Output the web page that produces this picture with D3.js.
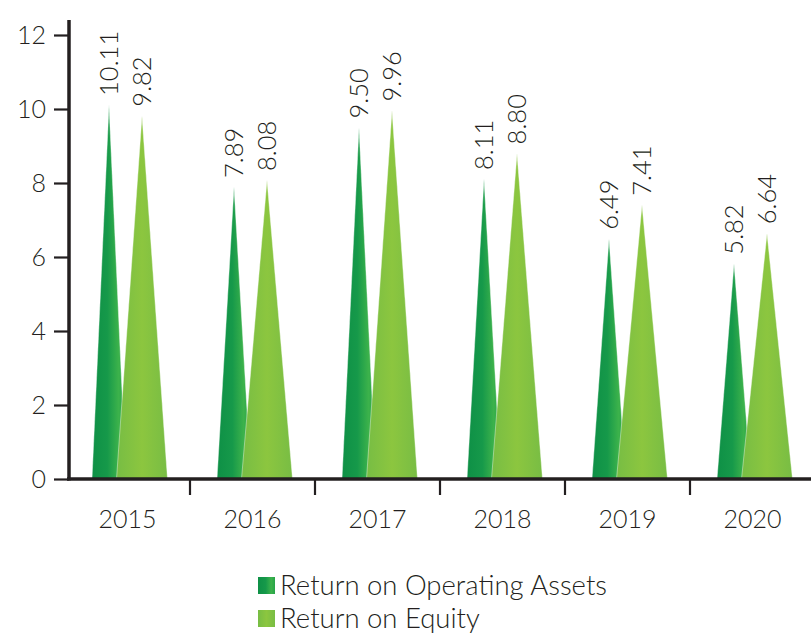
<!DOCTYPE html>
<html>
<head>
<meta charset="utf-8">
<script src="https://cdn.jsdelivr.net/npm/d3@7"></script>
<style>
  body { margin: 0; background: #fff; }
  text { font-family: Lato, 'Open Sans', sans-serif; font-weight: 300; fill: #231f20; }
</style>
</head>
<body>
<div id="chart"></div>
<script>
// data
let years = ['2015', '2016', '2017', '2018', '2019', '2020']
let seriesNames = ['Return on Operating Assets', 'Return on Equity']
let operatingAssets = [10.11, 7.89, 9.50, 8.11, 6.49, 5.82]
let equity = [9.82, 8.08, 9.96, 8.80, 7.41, 6.64]
let yTicks = [0, 2, 4, 6, 8, 10, 12]

let width = 811
let height = 636

let svg = d3.select('#chart')
  .append('svg')
  .attr('width', width)
  .attr('height', height)

let defs = svg.append('defs')

// gradients for the two series
let darkGrad = defs.append('linearGradient').attr('id', 'grad-dark')
darkGrad.append('stop').attr('offset', '0%').attr('stop-color', '#0e9046')
darkGrad.append('stop').attr('offset', '45%').attr('stop-color', '#16994a')
darkGrad.append('stop').attr('offset', '78%').attr('stop-color', '#3cb24b')
darkGrad.append('stop').attr('offset', '100%').attr('stop-color', '#27a349')

let lightGrad = defs.append('linearGradient').attr('id', 'grad-light')
lightGrad.append('stop').attr('offset', '0%').attr('stop-color', '#77bd44')
lightGrad.append('stop').attr('offset', '50%').attr('stop-color', '#8cc63f')
lightGrad.append('stop').attr('offset', '100%').attr('stop-color', '#78bd44')

let fills = ['url(#grad-dark)', 'url(#grad-light)']
let halfWidths = [17, 25.5]

var xScale = d3.scaleBand().domain(years).range([65, 815])
var xSeries = d3.scaleBand().domain(seriesNames).range([-35, 31])
var yScale = d3.scaleLinear().domain([0, 12]).range([479, 35])

// table of points built from the arrays
let rows = []
seriesNames.forEach((name, i) => {
  let values = i === 0 ? operatingAssets : equity
  years.forEach((year, j) => {
    rows.push({ series: name, index: i, year: year, value: values[j] })
  })
})

function centerX(d) {
  return xScale(d.year) + xScale.bandwidth() / 2 + xSeries(d.series) + xSeries.bandwidth() / 2
}

let line = d3.line()

// y axis
let yAxis = d3.axisLeft(yScale)
  .tickValues(yTicks)
  .tickSize(15)
  .tickPadding(8)

let yG = svg.append('g')
  .attr('transform', 'translate(69,0)')
  .call(yAxis)
yG.select('.domain').remove()
yG.selectAll('.tick line').attr('stroke', '#231f20').attr('stroke-width', 2.2)
yG.selectAll('.tick text')
  .attr('font-size', 25)
  .attr('font-family', 'Lato, sans-serif')
  .attr('fill', '#231f20')

svg.append('line')
  .attr('x1', 69).attr('x2', 69)
  .attr('y1', 20).attr('y2', yScale(0) + 1.5)
  .attr('stroke', '#231f20')
  .attr('stroke-width', 3.5)

// triangles, dark first so the light ones sit on top
svg.append('g')
  .selectAll('path')
  .data(rows)
  .join('path')
  .attr('d', d => {
    let cx = centerX(d)
    let hw = halfWidths[d.index]
    return line([[cx - hw, yScale(0)], [cx, yScale(d.value)], [cx + hw, yScale(0)]]) + 'Z'
  })
  .attr('fill', d => fills[d.index])
  .attr('stroke', '#ffffff')
  .attr('stroke-opacity', 0.5)
  .attr('stroke-width', 0.8)
  .attr('stroke-linejoin', 'miter')

// value labels
svg.append('g')
  .selectAll('text')
  .data(rows)
  .join('text')
  .attr('transform', d => 'translate(' + centerX(d) + ',' + (yScale(d.value) - 9) + ') rotate(-90)')
  .attr('dy', '0.35em')
  .attr('font-size', 25.5)
  .text(d => d.value.toFixed(2))

// x axis
svg.append('line')
  .attr('x1', 67).attr('x2', width)
  .attr('y1', yScale(0)).attr('y2', yScale(0))
  .attr('stroke', '#231f20')
  .attr('stroke-width', 3.5)

svg.append('g')
  .selectAll('line')
  .data(years.slice(1))
  .join('line')
  .attr('x1', d => xScale(d)).attr('x2', d => xScale(d))
  .attr('y1', yScale(0)).attr('y2', yScale(0) + 16)
  .attr('stroke', '#231f20')
  .attr('stroke-width', 2.2)

svg.append('g')
  .selectAll('text')
  .data(years)
  .join('text')
  .attr('x', d => xScale(d) + xScale.bandwidth() / 2)
  .attr('y', 528)
  .attr('text-anchor', 'middle')
  .attr('font-size', 25)
  .text(d => d)

// legend
let legend = svg.append('g')
  .selectAll('g')
  .data(seriesNames)
  .join('g')
  .attr('transform', (d, i) => 'translate(258,' + (577 + i * 33) + ')')

legend.append('rect')
  .attr('width', 17)
  .attr('height', 17)
  .attr('fill', (d, i) => fills[i])

legend.append('text')
  .attr('x', 22)
  .attr('y', 18)
  .attr('font-size', 27.5)
  .text(d => d)
</script>
</body>
</html>
